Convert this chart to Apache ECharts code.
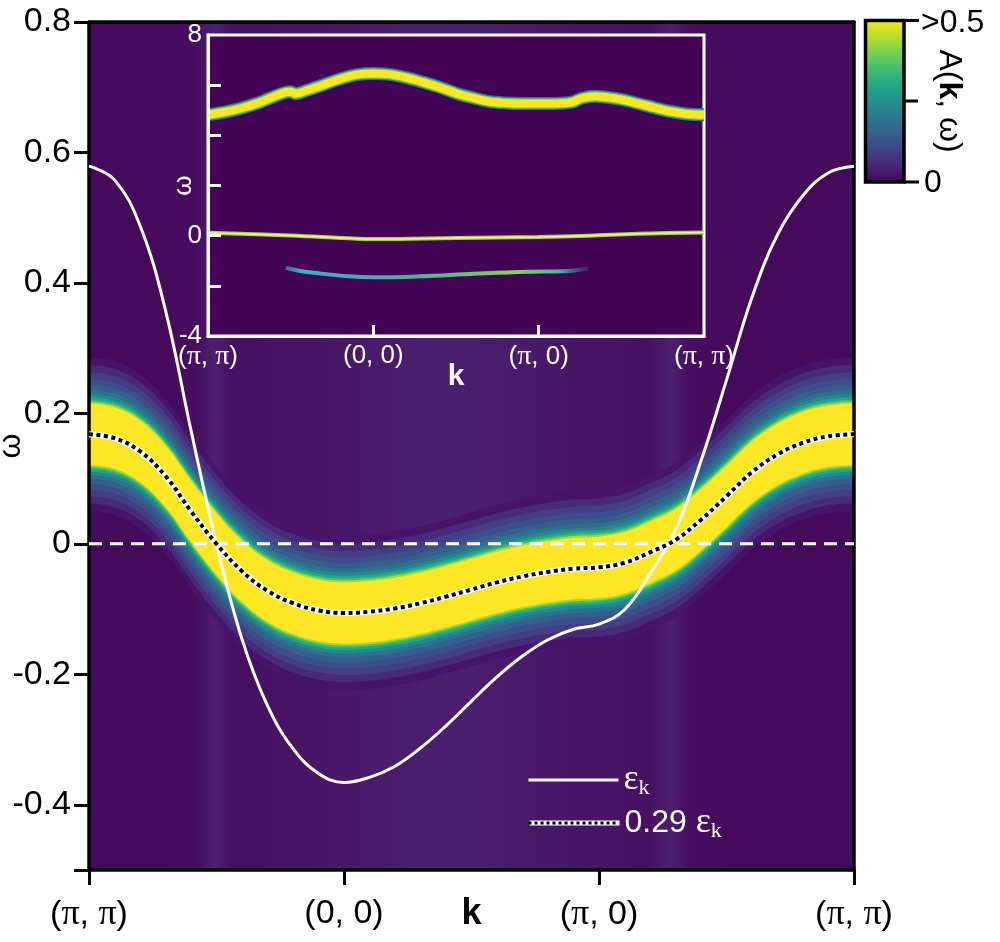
<!DOCTYPE html>
<html>
<head>
<meta charset="utf-8">
<title>A(k, ω)</title>
<script src="https://cdn.jsdelivr.net/npm/echarts@6/dist/echarts.min.js"></script>
<style>
  html, body { margin: 0; padding: 0; background: #fff; }
  #chart { width: 1000px; height: 942px; }
</style>
</head>
<body>
<div id="chart"></div>
<script>
// k path (π,π) -> (0,0) -> (π,0) -> (π,π), one unit per segment
var kLabels = ['(π, π)', '(0, 0)', '(π, 0)', '(π, π)'];
var kPath = [0, 0.1, 0.2, 0.3, 0.4, 0.5, 0.6, 0.7, 0.8, 0.9, 1.0, 1.1, 1.2, 1.3, 1.4, 1.5,
  1.6, 1.7, 1.8, 1.9, 2.0, 2.1, 2.2, 2.3, 2.4, 2.5, 2.6, 2.7, 2.8, 2.9, 3.0];
// bare dispersion (white line)
var epsK = [0.579, 0.558, 0.488, 0.358, 0.174, 0.000, -0.146, -0.248, -0.314, -0.352, -0.366,
  -0.358, -0.341, -0.313, -0.279, -0.241, -0.204, -0.172, -0.147, -0.131, -0.123,
  -0.101, -0.046, 0.021, 0.127, 0.251, 0.378, 0.474, 0.534, 0.569, 0.579];
// renormalised band, dotted line = 0.29 εk
var band = [0.168, 0.162, 0.142, 0.104, 0.050, 0.000, -0.042, -0.072, -0.091, -0.102, -0.106,
  -0.104, -0.099, -0.091, -0.081, -0.070, -0.059, -0.050, -0.043, -0.038, -0.036,
  -0.029, -0.013, 0.006, 0.037, 0.073, 0.110, 0.137, 0.155, 0.165, 0.168];
var yLabelValues = [-0.4, -0.2, 0, 0.2, 0.4, 0.6, 0.8];
var yTickValues = [-0.5, -0.4, -0.2, 0, 0.2, 0.4, 0.6, 0.8];

// inset: wide energy window
var insetK = [0, 0.1, 0.2, 0.3, 0.4, 0.47, 0.5, 0.53, 0.6, 0.7, 0.8, 0.9, 1.0, 1.1, 1.2, 1.3, 1.4, 1.5,
  1.6, 1.7, 1.8, 1.9, 2.0, 2.1, 2.2, 2.26, 2.34, 2.4, 2.5, 2.6, 2.7, 2.8, 2.9, 3.0];
var insetUpper = [4.82, 4.93, 5.08, 5.28, 5.55, 5.72, 5.74, 5.66, 5.80, 6.02, 6.25, 6.42, 6.47, 6.43,
  6.30, 6.12, 5.92, 5.68, 5.50, 5.35, 5.29, 5.27, 5.27, 5.27, 5.32, 5.48, 5.56, 5.53, 5.43, 5.27,
  5.10, 4.95, 4.85, 4.82];
var insetZeroK = [0, 0.5, 0.9, 1.0, 1.5, 2.0, 2.3, 2.6, 3.0];
var insetZero = [0.12, 0.01, -0.12, -0.13, -0.09, -0.05, 0.0, 0.08, 0.13];
var insetLowK = [0.47, 0.55, 0.64, 0.85, 1.0, 1.28, 1.61, 1.93, 2.15, 2.3];
var insetLow = [-1.28, -1.40, -1.48, -1.62, -1.66, -1.62, -1.52, -1.44, -1.42, -1.31];
var insetYLabels = [-4, 0, 8];
var insetYTicks = [-2, 0, 2, 4, 6];
var insetXTicks = [1, 2];

var cbarLabels = ['>0.5', '0'];

var FONT = 'Liberation Sans';
var SERIF = 'Liberation Serif';
var G = echarts.graphic;

function pairs(xs, ys) {
  return xs.map(function (x, i) { return [x, ys[i]]; });
}
function kFormatter(v) {
  return kLabels[Math.round(v)].replace(/π/g, '{p|π}');
}

// viridis, top = high
var viridis = ['#fde725', '#bddf26', '#7ad151', '#44bf70', '#22a884', '#21918c',
  '#2a788e', '#355f8d', '#414487', '#482475', '#440154'];

// glow around the quasiparticle band: half width in ω, colour (outermost first)
var glow = [
  [0.118, '#46146a'],
  [0.106, '#472a79'],
  [0.095, '#433e85'],
  [0.085, '#3c4f8a'],
  [0.076, '#355f8d'],
  [0.068, '#2c728e'],
  [0.062, '#24868e'],
  [0.057, '#22a584'],
  [0.053, '#44bf70'],
  [0.050, '#a2da37'],
  [0.047, '#fde725']
];

var series = [];

// soft lighter background patches (main panel)
function hGrad(c, a) {
  return new G.LinearGradient(0, 0, 1, 0, [
    { offset: 0, color: 'rgba(' + c + ',0)' },
    { offset: 0.5, color: 'rgba(' + c + ',' + a + ')' },
    { offset: 1, color: 'rgba(' + c + ',0)' }
  ]);
}
series.push({
  type: 'line', xAxisIndex: 0, yAxisIndex: 0, data: [], silent: true,
  markArea: {
    silent: true,
    data: [
      [{ xAxis: 0.3, yAxis: -0.5, itemStyle: { color: hGrad('95,150,200', 0.16) } }, { xAxis: 2.5, yAxis: 0.8 }],
      [{ xAxis: 0.42, yAxis: -0.5, itemStyle: { color: hGrad('110,130,210', 0.16) } }, { xAxis: 0.56, yAxis: 0.8 }],
      [{ xAxis: 2.2, yAxis: -0.5, itemStyle: { color: hGrad('110,130,210', 0.14) } }, { xAxis: 2.36, yAxis: 0.8 }]
    ]
  }
});

// glow layers as stacked areas; ω is put in the first column so the stack runs along ω
glow.forEach(function (g, i) {
  var h = g[0];
  series.push({
    type: 'line', xAxisIndex: 0, yAxisIndex: 0, stack: 'glow' + i, stackStrategy: 'all',
    encode: { x: 1, y: 0 },
    data: kPath.map(function (k, j) { return [band[j] - h, k]; }),
    smooth: 0.4, symbol: 'none', silent: true, lineStyle: { opacity: 0 }
  });
  series.push({
    type: 'line', xAxisIndex: 0, yAxisIndex: 0, stack: 'glow' + i, stackStrategy: 'all',
    encode: { x: 1, y: 0 },
    data: kPath.map(function (k) { return [2 * h, k]; }),
    smooth: 0.4, symbol: 'none', silent: true, lineStyle: { opacity: 0 },
    areaStyle: { color: g[1], opacity: 1 }
  });
});

// ω = 0
series.push({
  type: 'line', name: 'zero', xAxisIndex: 0, yAxisIndex: 0,
  data: [[0, 0], [3, 0]], symbol: 'none', silent: true,
  lineStyle: { color: '#fff', width: 3, type: [13, 8] }
});
series.push({
  type: 'line', name: 'εk', xAxisIndex: 0, yAxisIndex: 0,
  data: pairs(kPath, epsK), smooth: 0.4, symbol: 'none',
  lineStyle: { color: '#fff', width: 3 }
});
series.push({
  type: 'line', name: '0.29 εk', xAxisIndex: 0, yAxisIndex: 0,
  data: pairs(kPath, band), smooth: 0.4, symbol: 'none',
  lineStyle: { color: '#fff', width: 6 }
});
series.push({
  type: 'line', name: '0.29 εk', xAxisIndex: 0, yAxisIndex: 0,
  data: pairs(kPath, band), smooth: 0.4, symbol: 'none',
  lineStyle: { color: '#000', width: 4, type: [4, 3.5] }
});

// inset
series.push({
  type: 'line', xAxisIndex: 1, yAxisIndex: 1, data: [], silent: true, z: 5,
  markArea: {
    silent: true,
    data: [
      [{ xAxis: 0.5, yAxis: -1.4, itemStyle: { color: hGrad('140,120,210', 0.18) } }, { xAxis: 2.5, yAxis: -0.1 }],
      [{ xAxis: 0.3, yAxis: 0.2, itemStyle: { color: hGrad('120,110,200', 0.08) } }, { xAxis: 2.6, yAxis: 2.8 }]
    ]
  }
});
[[13, '#2c728e'], [10.5, '#5ec962'], [8, '#fde725']].forEach(function (s) {
  series.push({
    type: 'line', xAxisIndex: 1, yAxisIndex: 1, z: 5, silent: true,
    data: pairs(insetK, insetUpper), smooth: 0.35, symbol: 'none',
    lineStyle: { color: s[1], width: s[0] }
  });
});
series.push({
  type: 'line', xAxisIndex: 1, yAxisIndex: 1, z: 5, silent: true,
  data: pairs(insetZeroK, insetZero), smooth: 0.4, symbol: 'none',
  lineStyle: { color: '#a6d83a', width: 4 }
});
series.push({
  type: 'line', xAxisIndex: 1, yAxisIndex: 1, z: 5, silent: true,
  data: pairs(insetZeroK, insetZero), smooth: 0.4, symbol: 'none',
  lineStyle: { color: '#eef3a8', width: 1.5 }
});
series.push({
  type: 'line', xAxisIndex: 1, yAxisIndex: 1, z: 5, silent: true,
  data: pairs(insetLowK, insetLow), smooth: 0.4, symbol: 'none',
  lineStyle: {
    width: 4,
    color: new G.LinearGradient(0, 0, 1, 0, [
      { offset: 0, color: 'rgba(70,170,200,0.5)' },
      { offset: 0.06, color: '#40aebd' },
      { offset: 0.4, color: '#3fb39c' },
      { offset: 0.75, color: '#8bd25c' },
      { offset: 0.9, color: '#4fb3a5' },
      { offset: 1, color: 'rgba(60,110,150,0.2)' }
    ])
  }
});

function legendRich(col) {
  return {
    n: { fontFamily: FONT, fontSize: 32, color: col },
    e: { fontFamily: SERIF, fontSize: 36, color: col },
    s: { fontFamily: SERIF, fontSize: 22, color: col, padding: [16, 0, 0, 0] }
  };
}
function legendText(name) {
  return name === 'εk' ? '{e|ε}{s|k}' : '{n|0.29 }{e|ε}{s|k}';
}
var legendBase = {
  left: 527, orient: 'vertical', itemWidth: 90, itemHeight: 14, selectedMode: false,
  formatter: legendText, padding: 0
};

var option = {
  animation: false,
  backgroundColor: '#fff',
  textStyle: { fontFamily: FONT },
  grid: [
    { left: 89, top: 22, width: 765, height: 848, show: true, backgroundColor: '#460a5d',
      borderWidth: 0, z: 0, outerBoundsMode: 'none', containLabel: false },
    { left: 208, top: 35, width: 496, height: 301, show: true, backgroundColor: '#430456',
      borderColor: '#fff', borderWidth: 3, z: 4, outerBoundsMode: 'none', containLabel: false }
  ],
  xAxis: [
    {
      gridIndex: 0, type: 'value', min: 0, max: 3, interval: 1, z: 3,
      axisLine: { onZero: false, lineStyle: { color: '#000', width: 3.5 } },
      axisTick: { length: 15, lineStyle: { color: '#000', width: 3 } },
      axisLabel: {
        formatter: kFormatter, margin: 27, color: '#000', fontSize: 34, fontFamily: FONT,
        rich: { p: { fontFamily: SERIF, fontSize: 36, color: '#000' } }
      },
      splitLine: { show: false },
      name: 'k', nameLocation: 'middle', nameGap: 26, nameMoveOverlap: false,
      nameTextStyle: { color: '#000', fontSize: 36, fontWeight: 'bold', fontFamily: FONT }
    },
    {
      gridIndex: 1, type: 'value', min: 0, max: 3, z: 6,
      axisLine: { onZero: false, lineStyle: { color: '#fff', width: 3 } },
      axisTick: { inside: true, customValues: insetXTicks, length: 11, lineStyle: { color: '#fff', width: 3 } },
      axisLabel: {
        customValues: [0, 1, 2, 3], formatter: kFormatter, margin: 7, color: '#fff', fontSize: 26,
        fontFamily: FONT, rich: { p: { fontFamily: SERIF, fontSize: 28, color: '#fff' } }
      },
      splitLine: { show: false },
      name: 'k', nameLocation: 'middle', nameGap: 26, nameMoveOverlap: false,
      nameTextStyle: { color: '#fff', fontSize: 30, fontWeight: 'bold', fontFamily: FONT }
    },
    {
      gridIndex: 0, type: 'value', min: 0, max: 3, position: 'top', z: 3,
      axisLine: { onZero: false, lineStyle: { color: '#000', width: 3.5 } },
      axisTick: { show: false }, axisLabel: { show: false }, splitLine: { show: false }
    }
  ],
  yAxis: [
    {
      gridIndex: 0, type: 'value', min: -0.5, max: 0.8, z: 3,
      axisLine: { show: true, onZero: false, lineStyle: { color: '#000', width: 3.5 } },
      axisTick: { show: true, customValues: yTickValues, length: 15, lineStyle: { color: '#000', width: 3 } },
      axisLabel: {
        customValues: yLabelValues, margin: 18, color: '#000', fontSize: 34, fontFamily: FONT,
        formatter: function (v) { return v === 0 ? '0' : v.toFixed(1); }
      },
      splitLine: { show: false },
      name: 'ω', nameLocation: 'middle', nameRotate: 90, nameGap: 62, nameMoveOverlap: false,
      nameTextStyle: { color: '#000', fontSize: 32, fontFamily: FONT }
    },
    {
      gridIndex: 1, type: 'value', min: -4, max: 8, interval: 2, z: 6,
      axisLine: { show: true, onZero: false, lineStyle: { color: '#fff', width: 3 } },
      axisTick: { show: true, inside: true, customValues: insetYTicks, length: 13, lineStyle: { color: '#fff', width: 3 } },
      axisLabel: {
        customValues: insetYLabels, margin: 6, color: '#fff', fontSize: 26, fontFamily: FONT,
        formatter: function (v) { return String(v); }
      },
      splitLine: { show: false },
      name: 'ω', nameLocation: 'middle', nameRotate: 90, nameGap: 11, nameMoveOverlap: false,
      nameTextStyle: { color: '#fff', fontSize: 26, fontFamily: FONT }
    },
    {
      gridIndex: 0, type: 'value', min: -0.5, max: 0.8, position: 'right', z: 3,
      axisLine: { show: true, onZero: false, lineStyle: { color: '#000', width: 3.5 } },
      axisTick: { show: false }, axisLabel: { show: false }, splitLine: { show: false }
    }
  ],
  legend: [
    Object.assign({}, legendBase, {
      top: 762,
      data: [{ name: 'εk', itemStyle: { opacity: 0 }, lineStyle: { color: '#fff', width: 3, type: 'solid' } }],
      textStyle: { color: '#fff', rich: legendRich('#fff') }
    }),
    Object.assign({}, legendBase, {
      top: 805,
      data: [{ name: '0.29 εk', itemStyle: { opacity: 0 }, lineStyle: { color: '#fff', width: 5, type: 'solid' } }],
      textStyle: { color: '#fff', rich: legendRich('#fff') }
    }),
    Object.assign({}, legendBase, {
      top: 805,
      data: [{ name: '0.29 εk', itemStyle: { opacity: 0 }, lineStyle: { color: '#000', width: 3, type: [3, 3] } }],
      textStyle: { color: 'rgba(0,0,0,0)', rich: legendRich('rgba(0,0,0,0)') }
    })
  ],
  graphic: [
    {
      type: 'rect', z: 10, silent: true,
      shape: { x: 865.5, y: 20.5, width: 38.5, height: 161.5 },
      style: {
        fill: new G.LinearGradient(0, 0, 0, 1, viridis.map(function (c, i) {
          return { offset: i / (viridis.length - 1), color: c };
        })),
        stroke: '#000', lineWidth: 3.5
      }
    },
    { type: 'line', z: 10, silent: true, shape: { x1: 904, y1: 20.5, x2: 919, y2: 20.5 }, style: { stroke: '#000', lineWidth: 3 } },
    { type: 'line', z: 10, silent: true, shape: { x1: 904, y1: 101, x2: 918, y2: 101 }, style: { stroke: '#000', lineWidth: 3 } },
    { type: 'line', z: 10, silent: true, shape: { x1: 904, y1: 182, x2: 919, y2: 182 }, style: { stroke: '#000', lineWidth: 3 } },
    {
      type: 'text', z: 10, silent: true, x: 921, y: 23,
      style: { text: cbarLabels[0], fontFamily: FONT, fontSize: 32, fill: '#000', textAlign: 'left', textVerticalAlign: 'middle' }
    },
    {
      type: 'text', z: 10, silent: true, x: 924, y: 183,
      style: { text: cbarLabels[1], fontFamily: FONT, fontSize: 32, fill: '#000', textAlign: 'left', textVerticalAlign: 'middle' }
    },
    {
      type: 'text', z: 10, silent: true, x: 949, y: 101, rotation: -Math.PI / 2,
      style: {
        text: '{a|A(}{b|k}{a|, ω)}', textAlign: 'center', textVerticalAlign: 'middle', fill: '#000',
        rich: {
          a: { fontFamily: FONT, fontSize: 32, fill: '#000', color: '#000' },
          b: { fontFamily: FONT, fontSize: 32, fontWeight: 'bold', fill: '#000', color: '#000' }
        }
      }
    }
  ],
  series: series
};

var chart = echarts.init(document.getElementById('chart'));
chart.setOption(option);
</script>
</body>
</html>
